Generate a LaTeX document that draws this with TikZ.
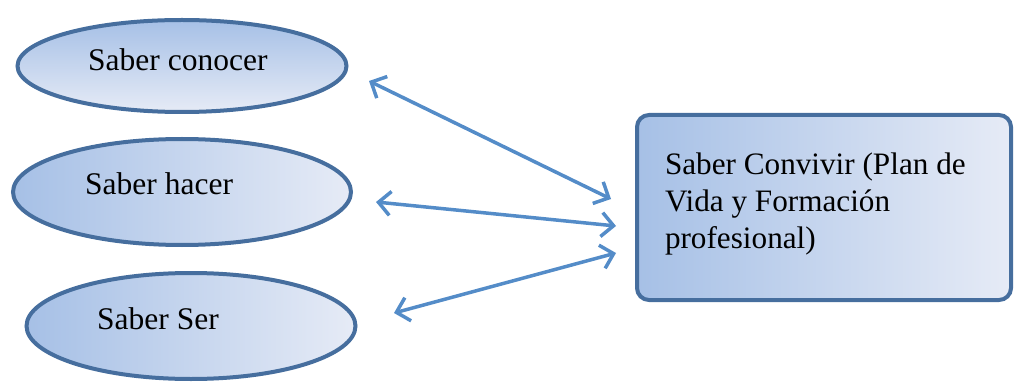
\documentclass[tikz,border=0pt]{standalone}
\usepackage{fontspec}
\setmainfont{Liberation Serif}
\usetikzlibrary{shapes.geometric,arrows.meta}
\definecolor{bord}{RGB}{70,110,158}
\definecolor{dark}{RGB}{166,192,230}
\definecolor{light}{RGB}{230,235,246}
\definecolor{arr}{RGB}{84,140,200}
\tikzset{barb/.tip={Straight Barb[length=12pt,width=24pt]}}
\begin{document}
\begin{tikzpicture}[x=1pt,y=-1pt,
  oval/.style={ellipse,draw=bord,line width=4pt,inner sep=0pt},
  txt/.style={font=\fontsize{31.5}{37}\selectfont,anchor=base west,inner sep=0pt},
  link/.style={draw=arr,line width=3.5pt,line cap=round,line join=round,barb-barb}]
\useasboundingbox (0,0) rectangle (1014,382);
% ellipses
\node[oval,minimum width=329pt,minimum height=92pt,top color=dark,bottom color=light] (e1) at (182,66) {};
\node[oval,minimum width=338pt,minimum height=106pt,left color=dark,right color=light] (e2) at (182,192) {};
\node[oval,minimum width=329pt,minimum height=106pt,left color=dark,right color=light] (e3) at (191,326) {};
\node[txt] (t1) at (88,71) {Saber conocer};
\node[txt] (t2) at (85,195) {Saber hacer};
\node[txt] (t3) at (97,329) {Saber Ser};
% rectangle
\node[draw=bord,line width=4pt,rounded corners=12pt,left color=dark,right color=light,
      minimum width=374pt,minimum height=185pt,text width=318pt,inner xsep=28pt,inner ysep=0pt,
      align=flush left,text depth=87pt,font=\fontsize{31.2}{37}\selectfont] (r) at (824,207.5)
      {Saber Convivir (Plan de\\Vida y Formación\\profesional)};
% arrows
\coordinate (a1l) at (369,81);  \coordinate (a1r) at (611,199);
\coordinate (a2l) at (376,202); \coordinate (a2r) at (616,226);
\coordinate (a3l) at (394,313); \coordinate (a3r) at (616,253);
\draw[link] (a1l) -- (a1r);
\draw[link] (a2l) -- (a2r);
\draw[link] (a3l) -- (a3r);
\end{tikzpicture}
\end{document}
